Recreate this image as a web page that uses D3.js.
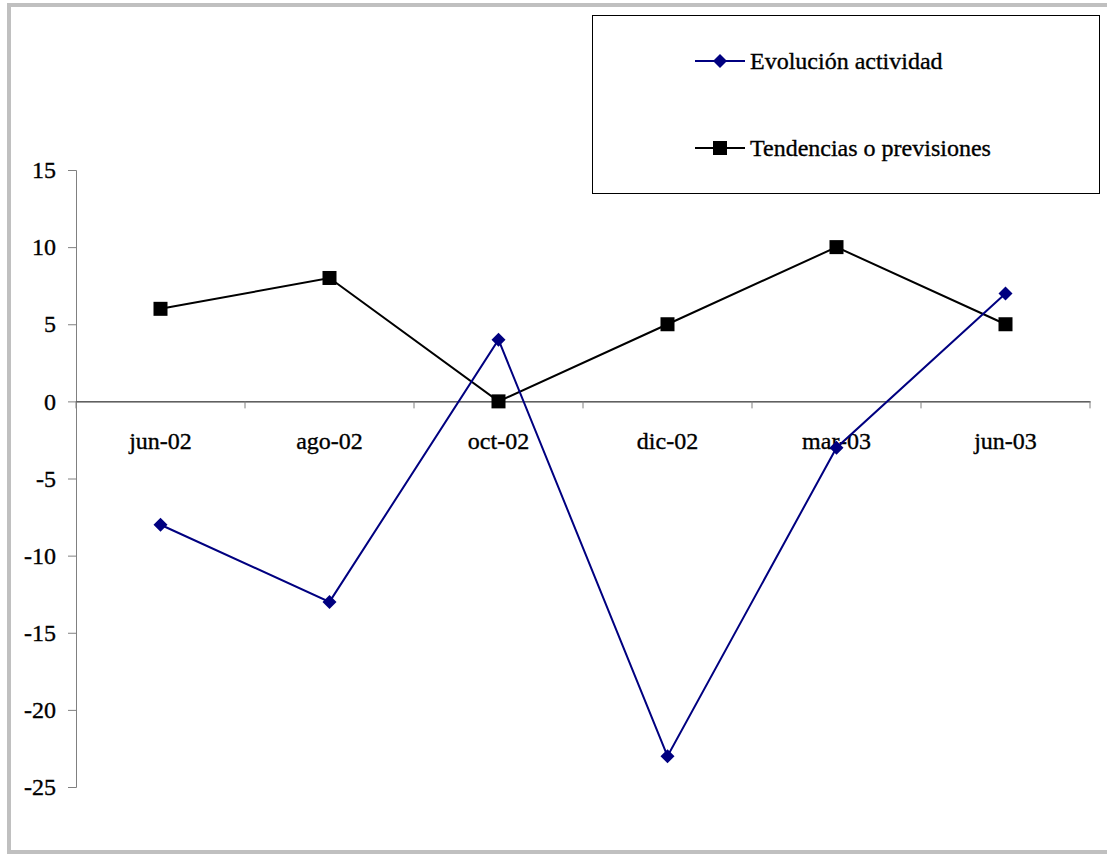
<!DOCTYPE html>
<html>
<head>
<meta charset="utf-8">
<script src="https://cdn.jsdelivr.net/npm/d3@7"></script>
<style>
  body { margin: 0; background: #fff; }
  svg { display: block; font-family: "Liberation Serif", "Times New Roman", serif; }
  text { fill: #000; stroke: #000; stroke-width: 0.35px; }
</style>
</head>
<body>
<svg width="1107" height="854"></svg>
<script>
// Chart data
var categories = ['jun-02', 'ago-02', 'oct-02', 'dic-02', 'mar-03', 'jun-03'];
var evolucion = [-8, -13, 4, -23, -3, 7];
var tendencias = [6, 8, 0, 5, 10, 5];
var yTicks = [15, 10, 5, 0, -5, -10, -15, -20, -25];

var svg = d3.select('svg');

// Outer frame
svg.append('rect')
  .attr('x', 9).attr('y', 5)
  .attr('width', 1110).attr('height', 847)
  .attr('fill', 'none')
  .attr('stroke', '#c0c0c0')
  .attr('stroke-width', 4);

// Scales
var x = d3.scaleBand().domain(categories).range([76, 1090]);
var y = d3.scaleLinear().domain([-25, 15]).range([787, 170]);

function cx(d, i) { return x(categories[i]) + x.bandwidth() / 2; }

// Y axis (hyphen minus like the original)
var yAxis = svg.append('g')
  .attr('transform', 'translate(76,0)')
  .call(d3.axisLeft(y).tickValues(yTicks).tickSize(8).tickPadding(12)
    .tickFormat(function (d) { return String(d); }));
yAxis.select('.domain').attr('stroke', '#808080');
yAxis.selectAll('.tick line').attr('stroke', '#808080');
yAxis.selectAll('.tick text')
  .attr('fill', '#000')
  .style('font-size', '24px')
  .style('font-family', '"Liberation Serif", serif');

// X axis at zero
var xAxis = svg.append('g')
  .attr('transform', 'translate(0,' + y(0) + ')')
  .call(d3.axisBottom(x).tickSize(0).tickPadding(0).tickFormat(''));
xAxis.select('.domain').attr('stroke', '#000');
xAxis.selectAll('.tick').remove();

// Band boundary ticks
var bounds = categories.map(function (c) { return x(c); }).concat([x.range()[1]]);
svg.append('g').selectAll('line')
  .data(bounds)
  .enter()
  .append('line')
  .attr('x1', function (d) { return d; })
  .attr('x2', function (d) { return d; })
  .attr('y1', y(0))
  .attr('y2', y(0) + 7)
  .attr('stroke', '#808080');

// Category labels
svg.append('g').selectAll('text')
  .data(categories)
  .enter()
  .append('text')
  .attr('x', function (d) { return x(d) + x.bandwidth() / 2; })
  .attr('y', 449)
  .attr('text-anchor', 'middle')
  .style('font-size', '24px')
  .text(function (d) { return d; });

var line = d3.line()
  .x(function (d, i) { return cx(d, i); })
  .y(function (d) { return y(d); });

// Tendencias o previsiones
svg.append('path')
  .datum(tendencias)
  .attr('d', line)
  .attr('fill', 'none')
  .attr('stroke', '#000')
  .attr('stroke-width', 2);

// Evolución actividad
svg.append('path')
  .datum(evolucion)
  .attr('d', line)
  .attr('fill', 'none')
  .attr('stroke', '#000080')
  .attr('stroke-width', 2);

svg.append('g').selectAll('rect')
  .data(tendencias)
  .enter()
  .append('rect')
  .attr('x', function (d, i) { return cx(d, i) - 7; })
  .attr('y', function (d) { return y(d) - 7; })
  .attr('width', 14)
  .attr('height', 14)
  .attr('fill', '#000');

var diamond = 'M0,-7L7,0L0,7L-7,0Z';
svg.append('g').selectAll('path')
  .data(evolucion)
  .enter()
  .append('path')
  .attr('transform', function (d, i) { return 'translate(' + cx(d, i) + ',' + y(d) + ')'; })
  .attr('d', diamond)
  .attr('fill', '#000080');

// Legend
var legend = svg.append('g');
legend.append('rect')
  .attr('x', 592.5).attr('y', 15.5)
  .attr('width', 507).attr('height', 178)
  .attr('fill', '#fff')
  .attr('stroke', '#000');

var legendItems = [
  { name: 'Evolución actividad', color: '#000080', shape: 'diamond', y: 61 },
  { name: 'Tendencias o previsiones', color: '#000', shape: 'square', y: 148 }
];

var item = legend.selectAll('.item')
  .data(legendItems)
  .enter()
  .append('g')
  .attr('class', 'item')
  .attr('transform', function (d) { return 'translate(0,' + d.y + ')'; });

item.append('line')
  .attr('x1', 695).attr('x2', 745)
  .attr('stroke', function (d) { return d.color; })
  .attr('stroke-width', 2);

item.each(function (d) {
  var g = d3.select(this);
  if (d.shape === 'diamond') {
    g.append('path')
      .attr('transform', 'translate(720,0)')
      .attr('d', diamond)
      .attr('fill', d.color);
  } else {
    g.append('rect')
      .attr('x', 713).attr('y', -7)
      .attr('width', 14).attr('height', 14)
      .attr('fill', d.color);
  }
});

item.append('text')
  .attr('x', 750)
  .attr('y', 8)
  .style('font-size', '24px')
  .text(function (d) { return d.name; });
</script>
</body>
</html>
